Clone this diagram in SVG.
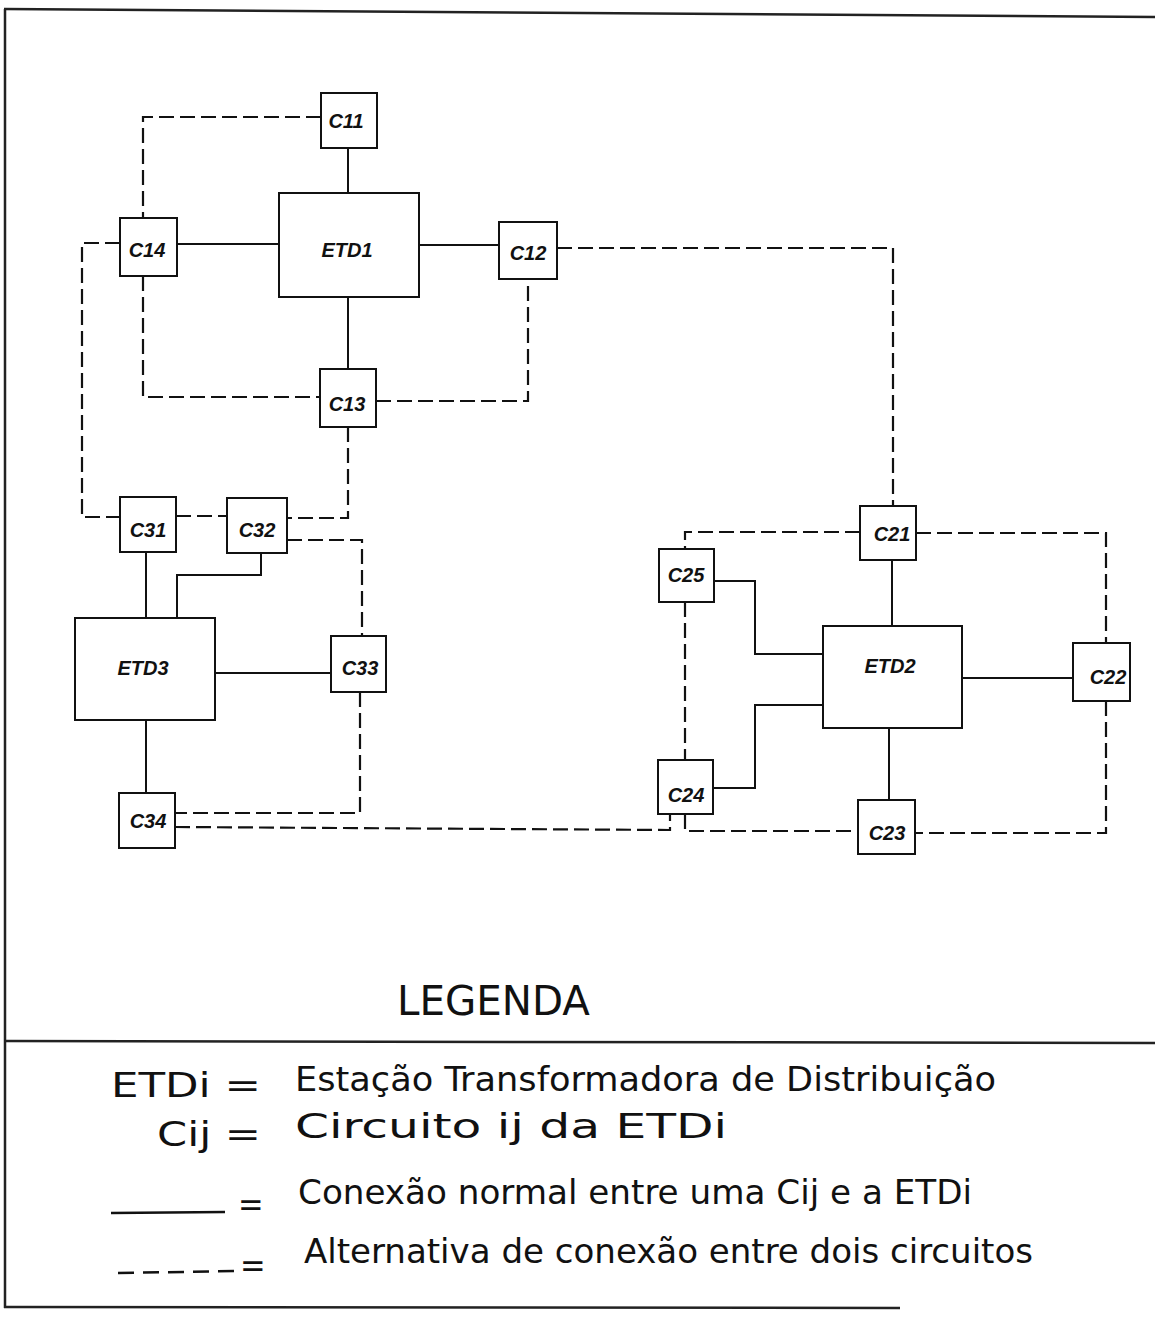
<svg xmlns="http://www.w3.org/2000/svg" width="1155" height="1319" viewBox="0 0 1155 1319">
<style>
.box{fill:#fff;stroke:#111;stroke-width:2}
.sol{fill:none;stroke:#111;stroke-width:2}
.dsh{fill:none;stroke:#111;stroke-width:2.2;stroke-dasharray:15 6}
.frame{fill:none;stroke:#222;stroke-width:2.5}
.lbl{font-family:"Liberation Sans",Arial,sans-serif;font-weight:bold;font-style:italic;font-size:20px;fill:#111;text-anchor:middle}
.hand{font-family:"Liberation Sans Narrow","DejaVu Sans Condensed","Liberation Sans",sans-serif;font-size:34px;fill:#111}
.title{font-family:"DejaVu Sans","Liberation Sans",sans-serif;font-size:41px;fill:#111}
</style>
<rect width="1155" height="1319" fill="#fff"/>
<g id="frame">
<line class="frame" x1="4" y1="9" x2="1155" y2="17"/>
<line class="frame" x1="5" y1="9" x2="5" y2="1308"/>
<line class="frame" x1="4" y1="1041" x2="1155" y2="1043"/>
<line class="frame" x1="4" y1="1307" x2="900" y2="1308"/>
</g>
<g id="connectors">
<line class="sol" x1="348" y1="148" x2="348" y2="193"/>
<line class="sol" x1="177" y1="244" x2="279" y2="244"/>
<line class="sol" x1="419" y1="245" x2="499" y2="245"/>
<line class="sol" x1="348" y1="297" x2="348" y2="369"/>
<polyline class="dsh" points="321,117 143,117 143,218"/>
<polyline class="dsh" points="143,276 143,397 320,397"/>
<polyline class="dsh" points="376,401 528,401 528,279"/>
<polyline class="dsh" points="120,243 82,243 82,517 120,517"/>
<polyline class="dsh" points="557,248 893,248 893,506"/>
<polyline class="dsh" points="348,427 348,518 287,518"/>
<line class="dsh" x1="176" y1="516" x2="227" y2="516"/>
<polyline class="dsh" points="287,540 362,540 362,636"/>
<line class="sol" x1="146" y1="552" x2="146" y2="618"/>
<polyline class="sol" points="261,553 261,575 177,575 177,618"/>
<line class="sol" x1="215" y1="673" x2="331" y2="673"/>
<line class="sol" x1="146" y1="720" x2="146" y2="793"/>
<polyline class="dsh" points="360,692 360,813 175,813"/>
<polyline class="dsh" points="175,827 670,830 670,814"/>
<polyline class="dsh" points="685,814 685,831 858,831"/>
<line class="sol" x1="892" y1="560" x2="892" y2="626"/>
<polyline class="sol" points="714,581 755,581 755,654 825,654"/>
<polyline class="sol" points="713,788 755,788 755,705 825,705"/>
<line class="sol" x1="962" y1="678" x2="1073" y2="678"/>
<line class="sol" x1="889" y1="728" x2="889" y2="800"/>
<polyline class="dsh" points="860,532 685,532 685,549"/>
<polyline class="dsh" points="916,533 1106,533 1106,660"/>
<polyline class="dsh" points="1106,701 1106,833 915,833"/>
<line class="dsh" x1="685" y1="602" x2="685" y2="760"/>
</g>
<g id="C11"><rect class="box" x="321" y="93" width="56" height="55"/><text class="lbl" x="346" y="128">C11</text></g>
<g id="ETD1"><rect class="box" x="279" y="193" width="140" height="104"/><text class="lbl" x="347" y="257">ETD1</text></g>
<g id="C14"><rect class="box" x="120" y="218" width="57" height="58"/><text class="lbl" x="147" y="257">C14</text></g>
<g id="C12"><rect class="box" x="499" y="222" width="58" height="57"/><text class="lbl" x="528" y="260">C12</text></g>
<g id="C13"><rect class="box" x="320" y="369" width="56" height="58"/><text class="lbl" x="347" y="411">C13</text></g>
<g id="C31"><rect class="box" x="120" y="497" width="56" height="55"/><text class="lbl" x="148" y="537">C31</text></g>
<g id="C32"><rect class="box" x="227" y="498" width="60" height="55"/><text class="lbl" x="257" y="537">C32</text></g>
<g id="ETD3"><rect class="box" x="75" y="618" width="140" height="102"/><text class="lbl" x="143" y="675">ETD3</text></g>
<g id="C33"><rect class="box" x="331" y="636" width="55" height="56"/><text class="lbl" x="360" y="675">C33</text></g>
<g id="C34"><rect class="box" x="119" y="793" width="56" height="55"/><text class="lbl" x="148" y="828">C34</text></g>
<g id="C21"><rect class="box" x="860" y="506" width="56" height="54"/><text class="lbl" x="892" y="541">C21</text></g>
<g id="C25"><rect class="box" x="659" y="549" width="55" height="53"/><text class="lbl" x="686" y="582">C25</text></g>
<g id="ETD2"><rect class="box" x="823" y="626" width="139" height="102"/><text class="lbl" x="890" y="673">ETD2</text></g>
<g id="C22"><rect class="box" x="1073" y="643" width="57" height="58"/><text class="lbl" x="1108" y="684">C22</text></g>
<g id="C24"><rect class="box" x="658" y="760" width="55" height="54"/><text class="lbl" x="686" y="802">C24</text></g>
<g id="C23"><rect class="box" x="858" y="800" width="57" height="54"/><text class="lbl" x="887" y="840">C23</text></g>
<g id="legend">
<text class="title" x="397" y="1015" textLength="193" lengthAdjust="spacingAndGlyphs">LEGENDA</text>
<text class="hand" x="111" y="1097" textLength="150" lengthAdjust="spacingAndGlyphs">ETDi =</text>
<text class="hand" x="295" y="1091" textLength="701" lengthAdjust="spacingAndGlyphs">Estação Transformadora de Distribuição</text>
<text class="hand" x="157" y="1146" textLength="104" lengthAdjust="spacingAndGlyphs">Cij =</text>
<text class="hand" x="295" y="1138" textLength="432" lengthAdjust="spacingAndGlyphs">Circuito   ij  da  ETDi</text>
<line x1="111" y1="1213" x2="225" y2="1212" stroke="#111" stroke-width="2.5"/>
<text class="hand" x="238" y="1216">=</text>
<text class="hand" x="298" y="1204" textLength="674" lengthAdjust="spacingAndGlyphs">Conexão normal entre uma Cij e a ETDi</text>
<line x1="118" y1="1273" x2="237" y2="1271" stroke="#111" stroke-width="2.5" stroke-dasharray="16 9"/>
<text class="hand" x="240" y="1277">=</text>
<text class="hand" x="304" y="1263" textLength="729" lengthAdjust="spacingAndGlyphs">Alternativa de conexão entre dois circuitos</text>
</g>
</svg>
